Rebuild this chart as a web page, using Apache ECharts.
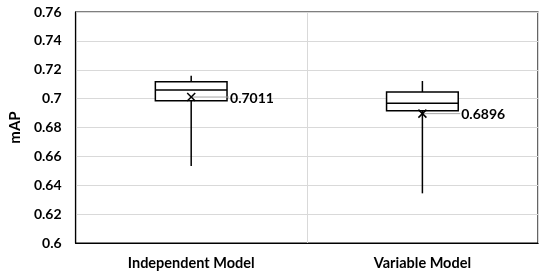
<!DOCTYPE html>
<html>
<head>
<meta charset="utf-8">
<script src="https://cdn.jsdelivr.net/npm/echarts@6/dist/echarts.min.js"></script>
<style>
  html, body { margin: 0; padding: 0; background: #fff; }
  #chart { width: 550px; height: 276px; }
</style>
</head>
<body>
<div id="chart"></div>
<script>
// categories and box statistics
const categories = ['Independent Model', 'Variable Model']
const minValues = [0.6533, 0.6344]
const q1Values = [0.6986, 0.6916]
const medianValues = [0.7060, 0.6968]
const q3Values = [0.7117, 0.7046]
const maxValues = [0.7159, 0.7122]
const meanValues = [0.7011, 0.6896]
const yTicks = [0.6, 0.62, 0.64, 0.66, 0.68, 0.7, 0.72, 0.74, 0.76]

const font = 'Lato, "Open Sans", sans-serif'
const boxData = categories.map((c, i) => [i, minValues[i], q1Values[i], medianValues[i], q3Values[i], maxValues[i], meanValues[i]])

const chart = echarts.init(document.getElementById('chart'))

function renderBox(params, api) {
    const idx = api.value(0)
    const bw = api.size([1, 0])[0] * 0.31
    const pMin = api.coord([idx, api.value(1)])
    const pQ1 = api.coord([idx, api.value(2)])
    const pMed = api.coord([idx, api.value(3)])
    const pQ3 = api.coord([idx, api.value(4)])
    const pMax = api.coord([idx, api.value(5)])
    const pMean = api.coord([idx, api.value(6)])
    const x = pQ1[0]
    const l = x - bw / 2
    const r = x + bw / 2
    const stroke = { stroke: '#000', lineWidth: 1.5, fill: null }
    const s = 4
    return {
        type: 'group',
        children: [
            { type: 'line', shape: { x1: x, y1: pMax[1], x2: x, y2: pQ3[1] }, style: stroke },
            { type: 'line', shape: { x1: x, y1: pQ1[1], x2: x, y2: pMin[1] }, style: stroke },
            { type: 'rect', shape: { x: l, y: pQ3[1], width: bw, height: pQ1[1] - pQ3[1] }, style: { stroke: '#000', lineWidth: 1.5, fill: '#fff' } },
            { type: 'line', shape: { x1: l, y1: pMed[1], x2: r, y2: pMed[1] }, style: stroke },
            // leader line from mean to the label
            { type: 'line', shape: { x1: x, y1: pMean[1], x2: r + 2, y2: pMean[1] }, style: { stroke: '#a6a6a6', lineWidth: 1 } },
            { type: 'line', shape: { x1: x - s, y1: pMean[1] - s, x2: x + s, y2: pMean[1] + s }, style: stroke },
            { type: 'line', shape: { x1: x - s, y1: pMean[1] + s, x2: x + s, y2: pMean[1] - s }, style: stroke },
            {
                type: 'text',
                x: r + 3,
                y: pMean[1] + 1,
                style: {
                    text: api.value(6).toFixed(4),
                    fill: '#000',
                    font: 'bold 14px ' + font,
                    verticalAlign: 'middle',
                    align: 'left'
                }
            }
        ]
    }
}

const option = {
    animation: false,
    grid: { left: 67, top: 12, width: 471, height: 231, show: true, borderColor: '#000', borderWidth: 1.2, backgroundColor: 'transparent' },
    xAxis: {
        type: 'category',
        data: categories,
        boundaryGap: true,
        axisLine: { show: true, lineStyle: { color: '#000', width: 1.2 } },
        axisTick: { show: false },
        axisLabel: { color: '#000', fontFamily: font, fontWeight: 'bold', fontSize: 14.5, margin: 13 },
        splitLine: { show: true, lineStyle: { color: '#d9d9d9', width: 1 } }
    },
    yAxis: {
        type: 'value',
        min: 0.6,
        max: 0.76,
        interval: 0.02,
        name: 'mAP',
        nameLocation: 'middle',
        nameGap: 43,
        nameTextStyle: { color: '#000', fontFamily: font, fontWeight: 'bold', fontSize: 15 },
        axisLine: { show: true, lineStyle: { color: '#000', width: 1.2 } },
        axisTick: { show: false },
        axisLabel: {
            color: '#000', fontFamily: font, fontWeight: 'bold', fontSize: 14, margin: 14,
            formatter: v => {
                const t = yTicks.find(k => Math.abs(k - v) < 1e-6)
                return t === undefined ? '' : String(t)
            }
        },
        splitLine: { show: true, lineStyle: { color: '#d9d9d9', width: 1 } }
    },
    series: [
        {
            type: 'custom',
            renderItem: renderBox,
            encode: { x: 0, y: [1, 2, 3, 4, 5, 6] },
            data: boxData,
            z: 5
        }
    ]
}

chart.setOption(option)
</script>
</body>
</html>
